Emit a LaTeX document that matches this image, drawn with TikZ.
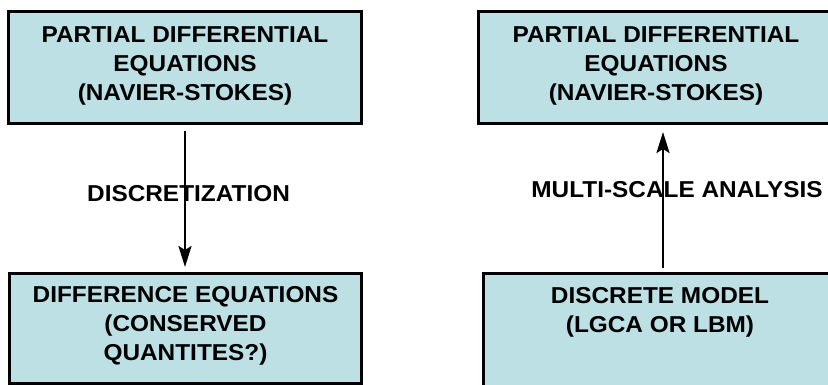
\documentclass[tikz,border=0pt]{standalone}
\usepackage{fontspec}
\setmainfont{Liberation Sans}
\usepackage{tikz}
\usetikzlibrary{arrows.meta}
\definecolor{boxfill}{RGB}{188,224,228}

\begin{document}
\begin{tikzpicture}[x=1pt, y=-1pt,
        box/.style={draw, rectangle, line width=3pt, fill=boxfill},
        lbl/.style={align=center, inner sep=0pt, xscale=1.06,
            font=\fontsize{23}{29}\selectfont\bfseries},
        flow/.style={-{Stealth[length=21pt, width=13pt, inset=4pt]}, line width=2.4pt}]
        \useasboundingbox (0,0) rectangle (828,385);
        \node[box, minimum width=353pt, minimum height=112pt]   (pdeL)  at (185,67.5)    {};
        \node[box, minimum width=352pt, minimum height=110pt]   (diff)  at (185.5,328.5) {};
        \node[box, minimum width=369pt, minimum height=112pt]   (pdeR)  at (663,67.5)    {};
        \node[box, minimum width=359pt, minimum height=113.5pt] (model) at (663,330.25)  {};
        \node[lbl] (pdeLtxt)  at (185,66)      {PARTIAL DIFFERENTIAL\\EQUATIONS\\(NAVIER-STOKES)};
        \node[lbl] (diffTxt)  at (185.5,326)   {DIFFERENCE EQUATIONS\\(CONSERVED\\QUANTITES?)};
        \node[lbl] (pdeRtxt)  at (656,66)      {PARTIAL DIFFERENTIAL\\EQUATIONS\\(NAVIER-STOKES)};
        \node[lbl] (modelTxt) at (660,312)     {DISCRETE MODEL\\(LGCA OR LBM)};
        \node[lbl] (discr)    at (188.5,193.5) {DISCRETIZATION};
        \node[lbl] (multi)    at (677,189.5)   {MULTI-SCALE ANALYSIS};
        \draw[flow, shorten <=6pt, shorten >=5pt] (pdeL.south) -- (pdeL.south |- diff.north);
        \draw[flow, shorten <=4pt, shorten >=7pt] (model.north) -- (pdeR.south);
    \end{tikzpicture}
\end{document}
